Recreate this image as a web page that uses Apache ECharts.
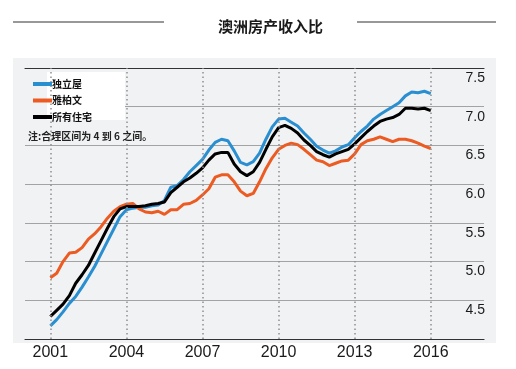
<!DOCTYPE html>
<html>
<head>
<meta charset="utf-8">
<script src="https://cdn.jsdelivr.net/npm/echarts@6/dist/echarts.min.js"></script>
<style>
html,body{margin:0;padding:0;background:#ffffff;}
#c{width:516px;height:369px;}
</style>
</head>
<body>
<div id="c"></div>
<script>
const titleText = '澳洲房产收入比';
const noteText = '注:合理区间为 4 到 6 之间｡';
const seriesNames = ['独立屋', '雅柏文', '所有住宅'];
const tickYears = [2001, 2004, 2007, 2010, 2013, 2016];

const quarters = [
  2001, 2001.25, 2001.5, 2001.75,
  2002, 2002.25, 2002.5, 2002.75,
  2003, 2003.25, 2003.5, 2003.75,
  2004, 2004.25, 2004.5, 2004.75,
  2005, 2005.25, 2005.5, 2005.75,
  2006, 2006.25, 2006.5, 2006.75,
  2007, 2007.25, 2007.5, 2007.75,
  2008, 2008.25, 2008.5, 2008.75,
  2009, 2009.25, 2009.5, 2009.75,
  2010, 2010.25, 2010.5, 2010.75,
  2011, 2011.25, 2011.5, 2011.75,
  2012, 2012.25, 2012.5, 2012.75,
  2013, 2013.25, 2013.5, 2013.75,
  2014, 2014.25, 2014.5, 2014.75,
  2015, 2015.25, 2015.5, 2015.75,
  2016
];

// 独立屋 (detached houses)
const houseValues = [
  4.17, 4.25, 4.35, 4.46,
  4.55, 4.67, 4.80, 4.94,
  5.10, 5.26, 5.42, 5.58,
  5.67, 5.69, 5.70, 5.70,
  5.72, 5.73, 5.79, 5.96,
  5.98, 6.06, 6.16, 6.24,
  6.32, 6.44, 6.54, 6.58,
  6.56, 6.43, 6.28, 6.25,
  6.29, 6.40, 6.58, 6.74,
  6.84, 6.85, 6.80, 6.75,
  6.66, 6.58, 6.49, 6.44,
  6.40, 6.43, 6.48, 6.51,
  6.60, 6.68, 6.75, 6.84,
  6.90, 6.95, 7.00, 7.05,
  7.14, 7.19, 7.18, 7.20,
  7.17
];

// 雅柏文 (apartments)
const unitValues = [
  4.79, 4.85, 5.00, 5.11,
  5.12, 5.18, 5.29, 5.36,
  5.45, 5.56, 5.65, 5.71,
  5.74, 5.75, 5.68, 5.64,
  5.63, 5.65, 5.61, 5.67,
  5.67, 5.74, 5.75, 5.79,
  5.86, 5.94, 6.09, 6.12,
  6.12, 6.03, 5.91, 5.85,
  5.88, 6.03, 6.20, 6.34,
  6.45, 6.50, 6.53, 6.51,
  6.45, 6.38, 6.31, 6.29,
  6.24, 6.27, 6.30, 6.31,
  6.39, 6.51, 6.56, 6.58,
  6.61, 6.58, 6.55, 6.58,
  6.58, 6.56, 6.53, 6.49,
  6.46
];

// 所有住宅 (all dwellings)
const allValues = [
  4.29, 4.37, 4.45, 4.56,
  4.72, 4.83, 4.95, 5.11,
  5.27, 5.43, 5.58, 5.68,
  5.71, 5.71, 5.71, 5.72,
  5.74, 5.75, 5.77, 5.89,
  5.96, 6.03, 6.08, 6.14,
  6.21, 6.31, 6.39, 6.41,
  6.41, 6.26, 6.16, 6.11,
  6.16, 6.28, 6.45, 6.61,
  6.73, 6.76, 6.72, 6.66,
  6.57, 6.50, 6.42, 6.38,
  6.35, 6.39, 6.42, 6.45,
  6.52, 6.60, 6.68, 6.75,
  6.81, 6.84, 6.86, 6.90,
  6.98, 6.98, 6.97, 6.98,
  6.95
];

const pair = vals => quarters.map((q, i) => [q, vals[i]]);

const chart = echarts.init(document.getElementById('c'), null, {renderer: 'canvas'});
const numFont = 'Liberation Sans';
const cjkFont = 'Noto Sans CJK SC';

chart.setOption({
  animation: false,
  backgroundColor: '#ffffff',
  title: {
    text: titleText,
    left: 213,
    top: 14,
    textStyle: {fontSize: 15, fontWeight: 'bold', color: '#1a1a1a', fontFamily: cjkFont}
  },
  legend: {
    orient: 'vertical',
    left: 28,
    top: 73,
    z: 20,
    itemWidth: 19,
    itemHeight: 4,
    itemGap: 4.5,
    icon: 'rect',
    data: seriesNames,
    textStyle: {fontSize: 10, fontWeight: 'bold', color: '#111', fontFamily: cjkFont, lineHeight: 12, padding: [0, 0, 0, -5]}
  },
  graphic: [
    {type: 'rect', z: -10, shape: {x: 13, y: 58, width: 483, height: 285}, style: {fill: '#f1f2f4'}},
    {type: 'rect', z: 5, shape: {x: 25, y: 72, width: 22, height: 48}, style: {fill: '#f1f2f4'}},
    {type: 'rect', z: 5, shape: {x: 47, y: 72, width: 78, height: 48}, style: {fill: '#ffffff'}},
    {type: 'line', z: 5, shape: {x1: 13, y1: 22, x2: 164, y2: 22}, style: {stroke: '#333', lineWidth: 1.2}},
    {type: 'line', z: 5, shape: {x1: 357, y1: 22, x2: 496, y2: 22}, style: {stroke: '#333', lineWidth: 1.2}},
    {type: 'text', z: 20, x: 28, y: 131, style: {text: noteText, fontSize: 10, fontWeight: 'bold', fill: '#222', fontFamily: cjkFont}}
  ],
  grid: {left: 25, right: 32, top: 68, bottom: 30},
  xAxis: [
    {
      type: 'value',
      min: 2000,
      max: 2018.1,
      axisLine: {show: true, lineStyle: {color: '#333', width: 1.2}},
      axisTick: {show: false},
      splitLine: {show: false},
      axisLabel: {
        customValues: tickYears,
        margin: 6,
        fontSize: 16,
        color: '#1a1a1a',
        fontFamily: numFont,
        formatter: v => String(v)
      }
    },
    {
      type: 'value',
      position: 'top',
      min: 2000,
      max: 2018.1,
      axisLine: {show: true, lineStyle: {color: '#333', width: 1.2}},
      axisTick: {show: false},
      axisLabel: {show: false},
      splitLine: {show: false}
    }
  ],
  yAxis: {
    type: 'value',
    position: 'right',
    min: 4,
    max: 7.5,
    interval: 0.5,
    axisLine: {show: false},
    axisTick: {show: false},
    splitLine: {show: true, lineStyle: {color: '#a3a3a3', width: 1}},
    axisLabel: {
      inside: true,
      showMinLabel: false,
      margin: -1,
      align: 'right',
      verticalAlign: 'top',
      padding: [3, 0, 0, 0],
      fontSize: 14,
      color: '#1a1a1a',
      fontFamily: numFont,
      formatter: v => v.toFixed(1)
    }
  },
  series: [
    {
      name: seriesNames[0],
      type: 'line',
      data: pair(houseValues),
      showSymbol: false,
      color: '#2a8fd0',
      lineStyle: {width: 3, color: '#2a8fd0'},
      z: 2,
      markLine: {
        silent: true,
        symbol: ['none', 'none'],
        label: {show: false},
        lineStyle: {color: '#8f8f8f', type: [1.5, 3], width: 1.5},
        data: tickYears.map(y => ({xAxis: y}))
      }
    },
    {
      name: seriesNames[1],
      type: 'line',
      data: pair(unitValues),
      showSymbol: false,
      color: '#ec5b22',
      lineStyle: {width: 3, color: '#ec5b22'},
      z: 3
    },
    {
      name: seriesNames[2],
      type: 'line',
      data: pair(allValues),
      showSymbol: false,
      color: '#000000',
      lineStyle: {width: 3, color: '#000000'},
      z: 4
    }
  ]
});
</script>
</body>
</html>
